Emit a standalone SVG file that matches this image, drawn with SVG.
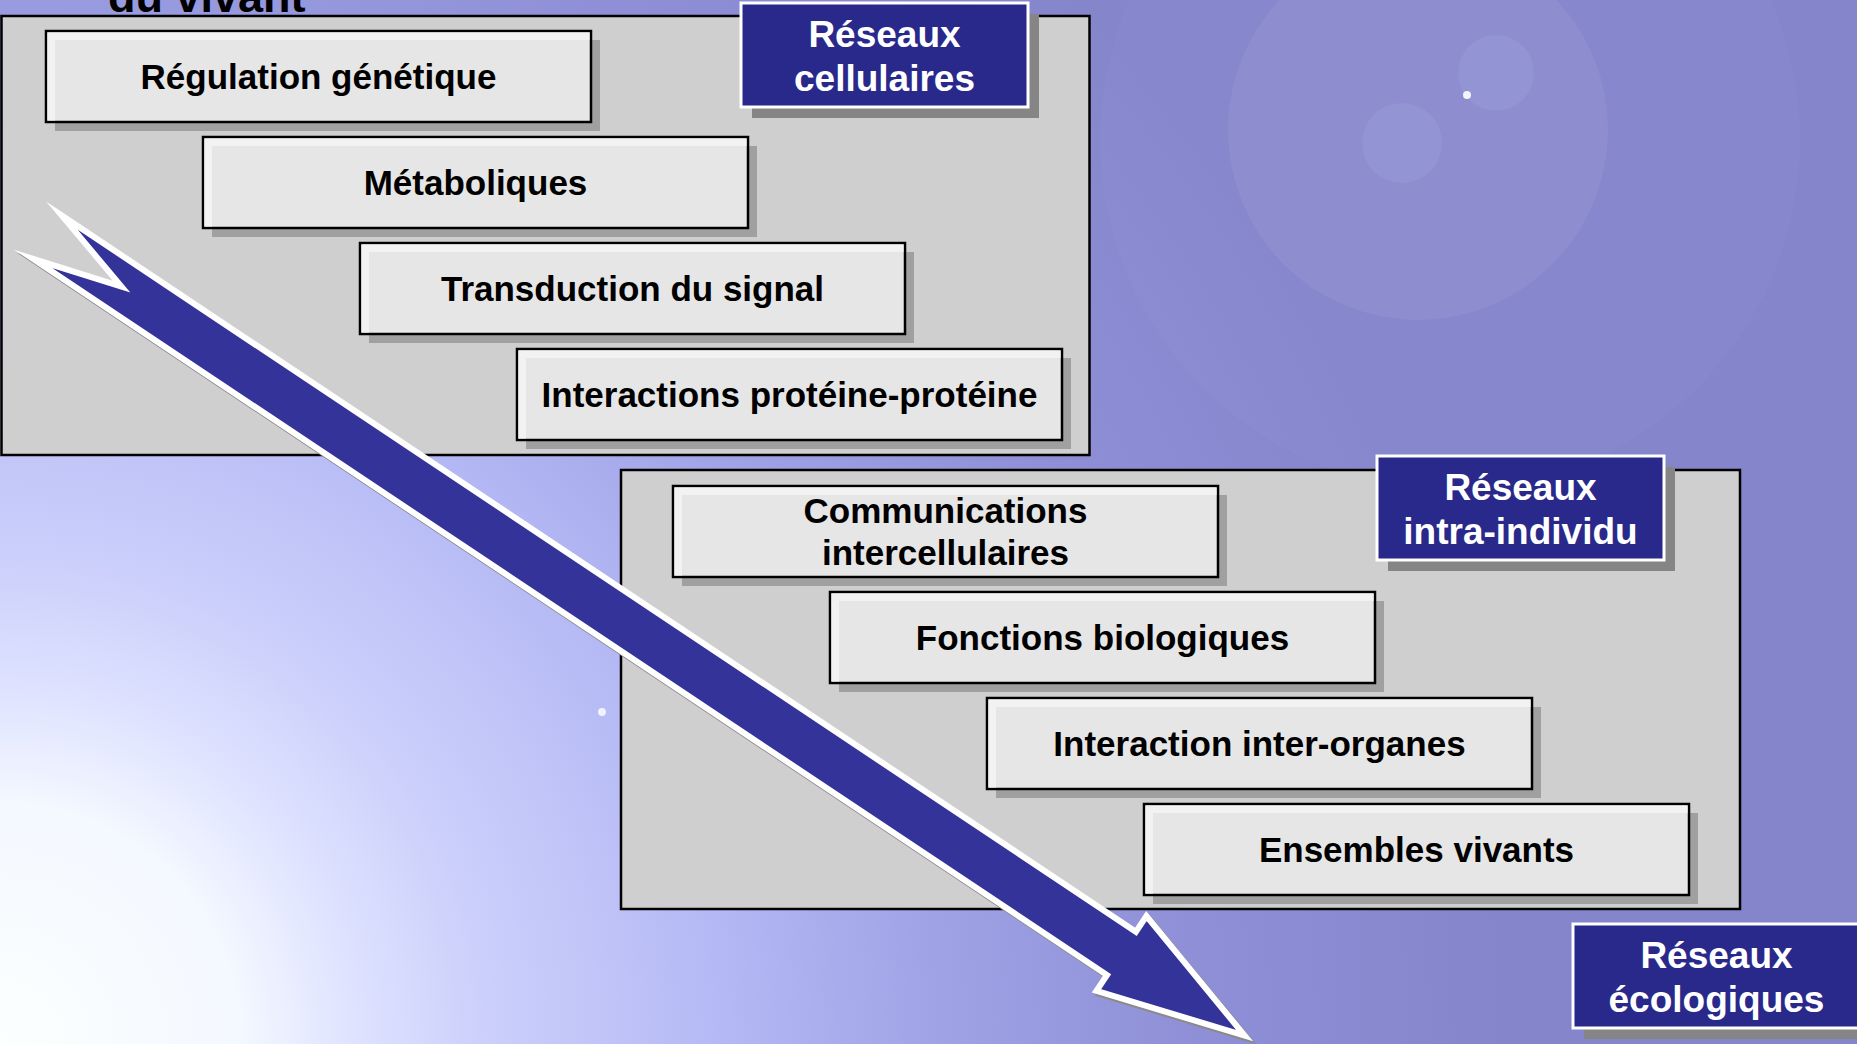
<svg xmlns="http://www.w3.org/2000/svg" xmlns:xlink="http://www.w3.org/1999/xlink" width="1857" height="1044" viewBox="0 0 1857 1044">
<style>
.nt{font-family:"Liberation Sans",Arial,sans-serif;font-weight:bold;font-size:35px;fill:#000;text-anchor:middle}
.lt{font-family:"Liberation Sans",Arial,sans-serif;font-weight:bold;font-size:37px;fill:#fff;text-anchor:middle}
.panel{fill:#cfcfcf;stroke:#000;stroke-width:2.5}
.bx{fill:#e6e6e6;stroke:#000;stroke-width:2.5}
.sh{fill:#a0a0a0}
.hl{fill:#f2f2f2}
.lb{fill:#29298b;stroke:#fff;stroke-width:3}
.lsh{fill:#858585}
</style>
<defs>
<radialGradient id="bg" cx="0" cy="1044" r="1500" gradientUnits="userSpaceOnUse">
<stop offset="0" stop-color="#fbfffe"/>
<stop offset="0.16" stop-color="#f4f8ff"/>
<stop offset="0.23" stop-color="#e0e4ff"/>
<stop offset="0.32" stop-color="#ccd0fb"/>
<stop offset="0.47" stop-color="#b6baf5"/>
<stop offset="0.62" stop-color="#a0a3e6"/>
<stop offset="0.8" stop-color="#8e8fd6"/>
<stop offset="1" stop-color="#8585cc"/>
</radialGradient>
<g id="box">
<rect class="sh" x="9" y="9" width="545" height="91"/>
<rect class="bx" width="545" height="91"/>
<path class="hl" d="M1.5 1.5H543.5V9H9V89.5H1.5Z"/>
</g>
<g id="lbox">
<rect class="lsh" x="11" y="11" width="287" height="104"/>
<rect class="lb" width="287" height="104"/>
</g>
</defs>

<rect width="1857" height="1044" fill="url(#bg)"/>
<circle cx="1450" cy="140" r="350" fill="#fff" opacity="0.025"/>
<circle cx="1418" cy="130" r="190" fill="#fff" opacity="0.05"/>
<circle cx="1496" cy="73" r="38" fill="#b0b8f0" opacity="0.18"/>
<circle cx="1402" cy="143" r="40" fill="#b0b8f0" opacity="0.18"/>
<circle cx="1467" cy="95" r="4" fill="#fff" opacity="0.9"/>
<circle cx="602" cy="712" r="4" fill="#fff" opacity="0.8"/>

<text x="108" y="12" style="font-family:'Liberation Sans',Arial,sans-serif;font-weight:bold;font-size:45px;fill:#000">du vivant</text>

<g id="panel-cellulaires">
<rect class="panel" x="1.5" y="16" width="1088" height="439"/>
</g>
<g id="panel-intra">
<rect class="panel" x="621" y="470" width="1119" height="439"/>
</g>

<g id="n-regulation" transform="translate(46,31)"><use xlink:href="#box"/><text class="nt" x="272.5" y="58">Régulation génétique</text></g>
<g id="n-metaboliques" transform="translate(203,137)"><use xlink:href="#box"/><text class="nt" x="272.5" y="58">Métaboliques</text></g>
<g id="n-transduction" transform="translate(360,243)"><use xlink:href="#box"/><text class="nt" x="272.5" y="58">Transduction du signal</text></g>
<g id="n-interactions" transform="translate(517,349)"><use xlink:href="#box"/><text class="nt" x="272.5" y="58">Interactions protéine-protéine</text></g>

<g id="n-communications" transform="translate(673,486)"><use xlink:href="#box"/><text class="nt" x="272.5" y="37">Communications</text><text class="nt" x="272.5" y="79">intercellulaires</text></g>
<g id="n-fonctions" transform="translate(830,592)"><use xlink:href="#box"/><text class="nt" x="272.5" y="58">Fonctions biologiques</text></g>
<g id="n-interorganes" transform="translate(987,698)"><use xlink:href="#box"/><text class="nt" x="272.5" y="58">Interaction inter-organes</text></g>
<g id="n-ensembles" transform="translate(1144,804)"><use xlink:href="#box"/><text class="nt" x="272.5" y="58">Ensembles vivants</text></g>

<g id="l-cellulaires" transform="translate(741,3)"><use xlink:href="#lbox"/><text class="lt" x="143.5" y="44">Réseaux</text><text class="lt" x="143.5" y="88">cellulaires</text></g>
<g id="l-intra" transform="translate(1377,456)"><use xlink:href="#lbox"/><text class="lt" x="143.5" y="44">Réseaux</text><text class="lt" x="143.5" y="88">intra-individu</text></g>
<g id="l-ecologiques" transform="translate(1573,924)"><use xlink:href="#lbox"/><text class="lt" x="143.5" y="44">Réseaux</text><text class="lt" x="143.5" y="88">écologiques</text></g>

<g id="connectors">
<polygon transform="translate(3,3) rotate(33.7)" points="171,145 1462,145 1462,126 1610,171 1462,216 1462,197 171,197 260,171" fill="#8a8a8a" stroke="#8a8a8a" stroke-width="6" stroke-linejoin="miter" stroke-miterlimit="20"/>
<polygon transform="rotate(33.7)" points="171,145 1462,145 1462,126 1610,171 1462,216 1462,197 171,197 260,171" fill="#333399" stroke="#fff" stroke-width="6" stroke-linejoin="miter" stroke-miterlimit="20"/>
</g>
</svg>
